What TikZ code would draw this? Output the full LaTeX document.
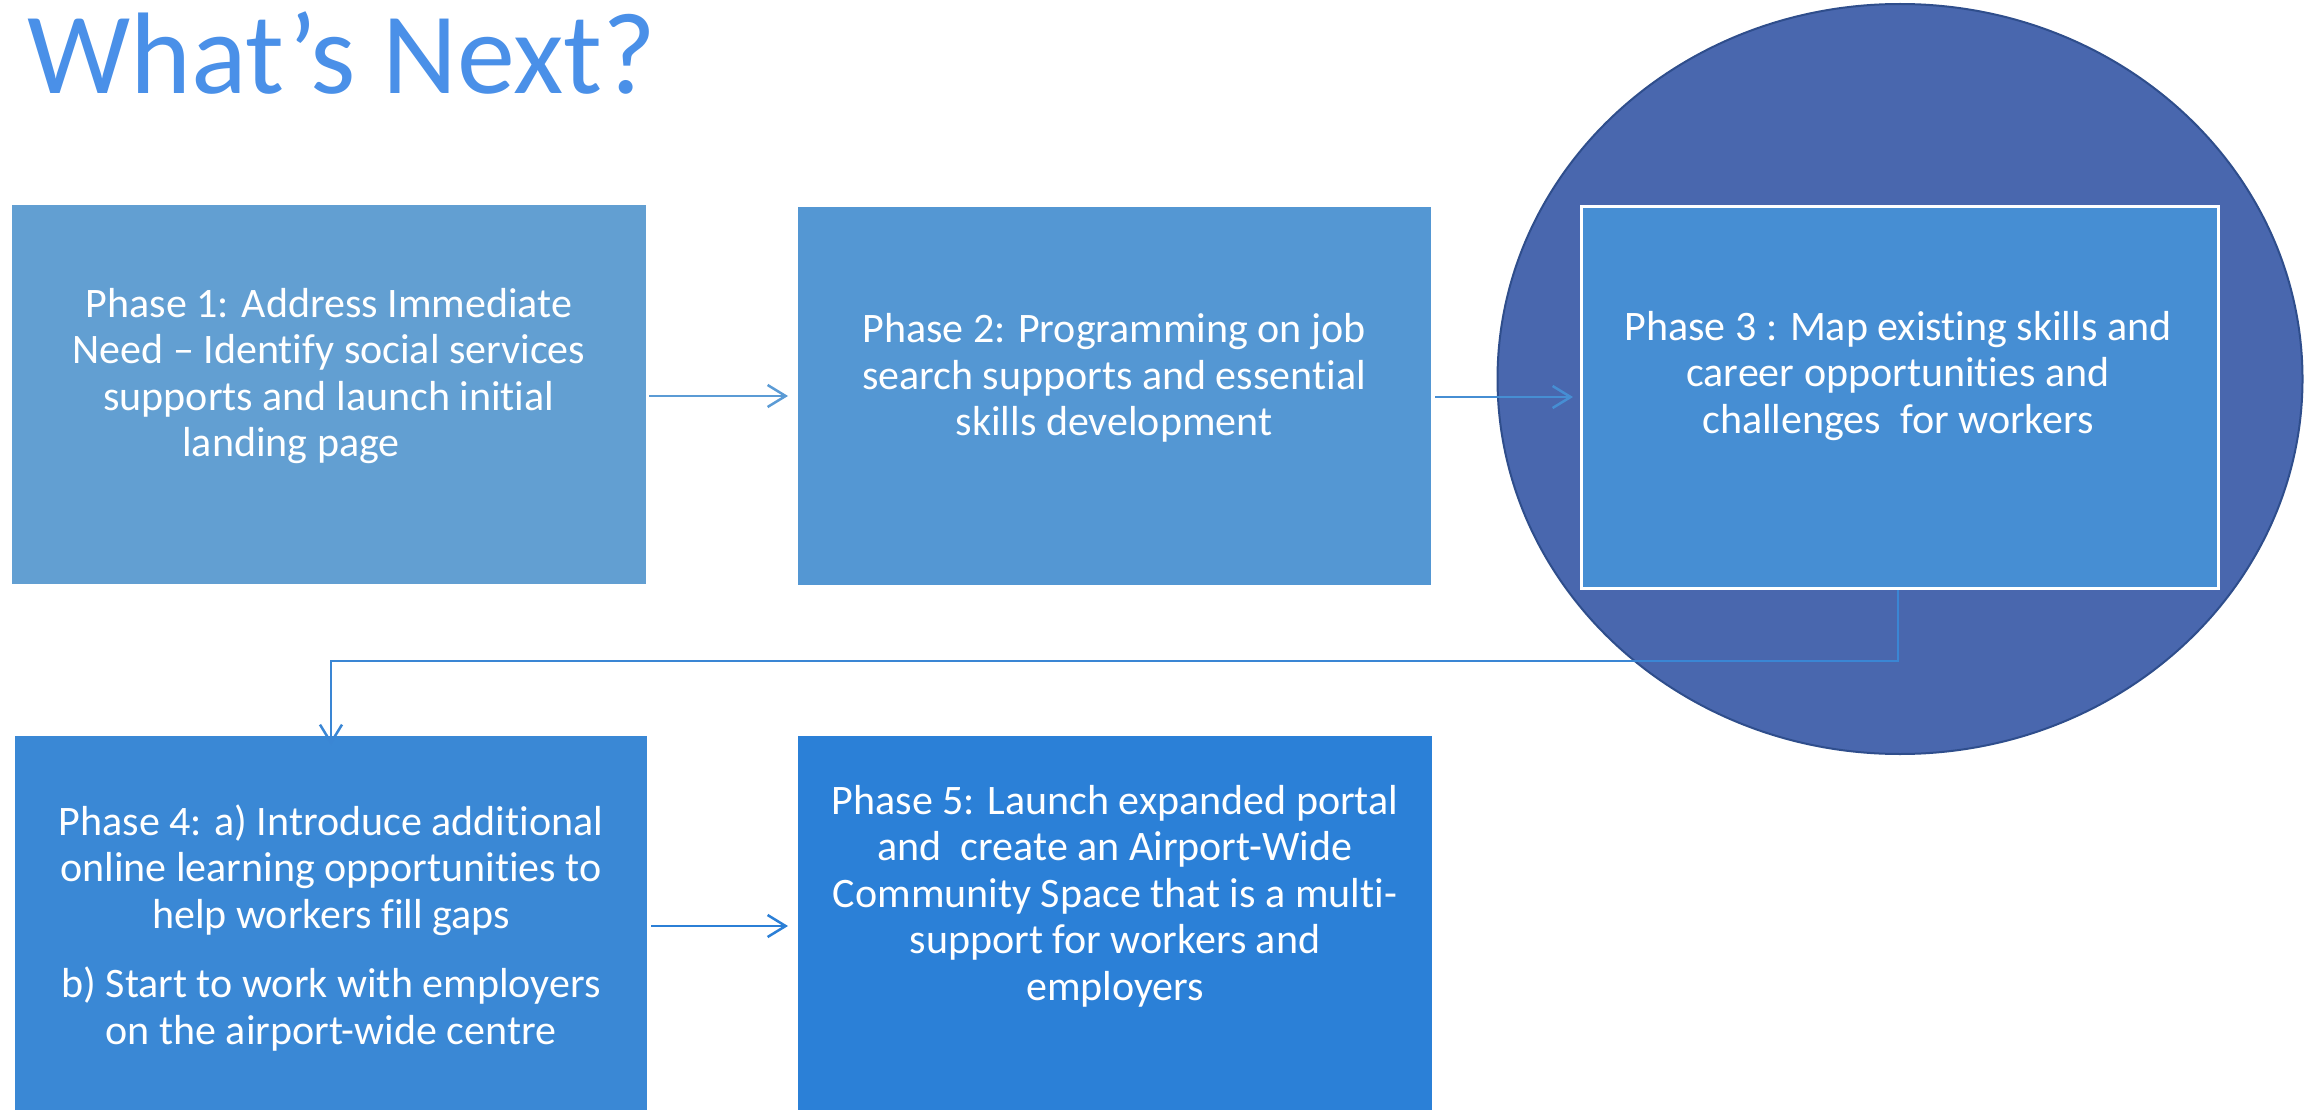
\documentclass[tikz,border=0pt]{standalone}
\usepackage{fontspec}
\setmainfont{Carlito}[Ligatures=NoCommon]
\usetikzlibrary{arrows.meta,shapes.geometric}
\definecolor{cone}{RGB}{98,159,210}
\definecolor{ctwo}{RGB}{84,151,211}
\definecolor{cthree}{RGB}{70,142,211}
\definecolor{cfour}{RGB}{58,136,213}
\definecolor{cfive}{RGB}{43,128,215}
\definecolor{ellfill}{RGB}{73,103,174}
\definecolor{ellline}{RGB}{47,78,140}
\definecolor{titleblue}{RGB}{74,144,232}
\definecolor{arrA}{RGB}{91,155,213}
\definecolor{arrB}{RGB}{70,142,211}
\definecolor{arrC}{RGB}{58,134,212}
\definecolor{arrD}{RGB}{43,127,214}
\begin{document}
\begin{tikzpicture}[x=1pt,y=-1pt,
  phasebox/.style={draw=none,inner sep=0pt,minimum width=#1,anchor=north west},
  phasetext/.style={text=white,align=center,inner sep=0pt,font=\fontsize{42}{46.5}\selectfont},
  flow/.style={line width=2.5pt,-{Straight Barb[length=18pt,width=22pt,line width=2.5pt]}}
]
\useasboundingbox (0,0) rectangle (2318,1110);
\fill[white] (0,0) rectangle (2318,1110);
% title
\node[anchor=base west,inner sep=0pt,text=titleblue,font=\fontsize{116}{124}\selectfont] (title) at (27,94) {What’s Next?};
% ellipse
\node[draw=ellline,line width=2pt,fill=ellfill,ellipse,minimum width=805pt,minimum height=750pt,inner sep=0pt] (ell) at (1900,379) {};
% boxes
\node[phasebox=634pt,fill=cone,minimum height=379pt] (p1) at (12,205) {};
\node[phasebox=633pt,fill=ctwo,minimum height=378pt] (p2) at (798,207) {};
\node[phasebox=637pt,fill=cthree,minimum height=382pt,draw=white,line width=3pt] (p3) at (1580,205) {};
\node[phasebox=632pt,fill=cfour,minimum height=374pt] (p4) at (15,736) {};
\node[phasebox=634pt,fill=cfive,minimum height=374pt] (p5) at (798,736) {};
% texts
\node[phasetext] (t1) at (329,376) {Phase 1: Address Immediate\\Need – Identify social services\\supports and launch initial\\landing page\hspace*{76pt}};
\node[phasetext] (t2) at (1114,378) {Phase 2: Programming on job\\search supports and essential\\skills development};
\node[phasetext] (t3) at (1898,376) {Phase 3 : Map existing skills and\\career opportunities and\\challenges\ \ for workers};
\node[phasetext] (t4) at (331,928) {Phase 4: a) Introduce additional\\online learning opportunities to\\help workers fill gaps\\[23pt]b) Start to work with employers\\on the airport-wide centre};
\node[phasetext] (t5) at (1115,896) {Phase 5: Launch expanded portal\\and\ \ create an Airport-Wide\\Community Space that is a multi-\\support for workers and\\employers};
% connectors
\coordinate (c1) at (1898,661);
\coordinate (c2) at (331,661);
\draw[flow,draw=arrA] (p1.east |- 0,396) ++(3,0) -- ([xshift=-10pt]p2.west |- 0,396);
\draw[flow,draw=arrB] (p2.east |- 0,397) ++(4,0) -- ([xshift=-7pt]p3.west |- 0,397);
\draw[flow,draw=arrC] (p3.south -| c1) -- (c1) -- (c2) -- ([yshift=-9pt]c2 |- p4.north);
\draw[flow,draw=arrD] (p4.east |- 0,926) ++(4,0) -- ([xshift=-10pt]p5.west |- 0,926);
\end{tikzpicture}
\end{document}
